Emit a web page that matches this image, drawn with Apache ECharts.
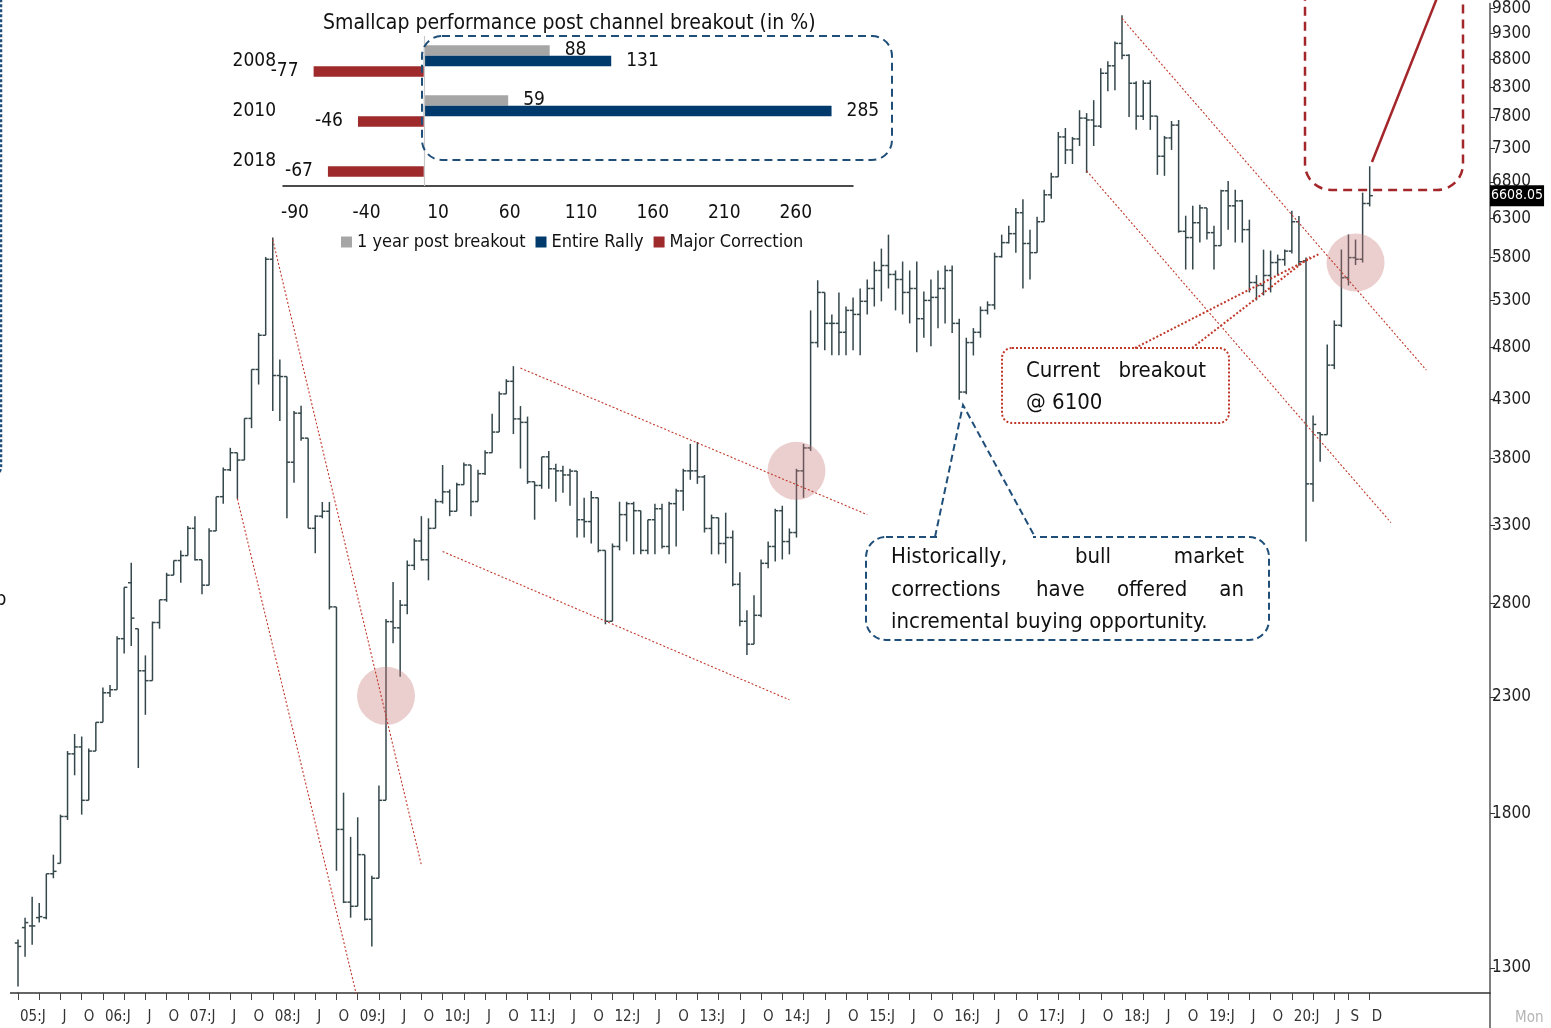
<!DOCTYPE html>
<html><head><meta charset="utf-8">
<script src="https://cdn.jsdelivr.net/npm/echarts@6/dist/echarts.min.js"></script>
<style>html,body{margin:0;padding:0;background:#fff}#c{width:1551px;height:1028px}</style>
</head><body><div id="c"></div>
<script>
// ---------- Monthly OHLC, Jan 2005 .. Dec 2020 ----------
const opens = [
 1370,1415,1420,1445,1445,1585,1620,1788,2040,2070,1850,2052,
 2180,2320,2335,2600,2925,2655,2430,2380,2690,2822,2972,3065,
 3097,3280,3070,2910,3262,3506,3710,3846,3787,4134,4583,4925,
 5780,4525,4515,3770,4180,3966,3280,3365,3400,2780,1740,1493,
 1480,1650,1440,1570,1850,2695,2660,2790,3034,3194,3070,3280,
 3470,3542,3400,3596,3748,3470,3680,3846,4017,4353,4470,4130,
 4100,3618,3590,3813,3718,3702,3670,3700,3340,3327,3498,3131,
 2697,3157,3376,3455,3404,3131,3340,3418,3157,3455,3549,3702,
 3702,3655,3279,3354,3177,3217,2915,2697,2570,2731,3047,3157,
 3404,3190,3251,3702,3885,4850,5390,5050,5050,4956,5190,5146,
 5290,5435,5645,5704,5598,5539,5390,5435,5100,5300,5334,5435,
 5645,5050,4370,4850,4956,5190,5250,5812,5986,6100,6375,5975,
 5861,6255,6620,6875,7478,7276,7447,7780,7750,7650,8551,8686,
 9106,8880,8373,7813,8373,7813,7180,7462,7666,6130,6050,6242,
 6440,6113,5948,6676,6468,6536,6152,5504,5470,5586,5740,5776,
 5880,6255,5760,3602,4010,3995,4625,5030,5560,5800,5780,6500];
const highs = [
 1380,1445,1510,1490,1585,1650,1795,2052,2127,2116,2063,2180,
 2346,2358,2613,2897,3050,2655,2510,2695,2822,2987,3065,3130,
 3296,3365,3070,3280,3506,3729,3886,3846,4134,4583,4950,5808,
 6052,4680,4515,4200,4245,3966,3372,3467,3467,2780,1880,1713,
 1785,1650,1578,1909,2710,2930,2820,3065,3210,3365,3350,3490,
 3748,3560,3610,3767,3748,3710,3866,4175,4375,4490,4615,4243,
 4150,3618,3813,3860,3757,3741,3718,3700,3498,3549,3498,3131,
 3177,3469,3469,3469,3404,3340,3455,3455,3469,3565,3718,3918,
 3934,3670,3376,3354,3390,3265,2990,2760,2849,3072,3190,3418,
 3440,3279,3718,3918,5190,5530,5390,5146,5390,5233,5334,5435,
 5539,5752,5911,6087,5645,5752,5645,5752,5400,5539,5645,5704,
 5704,5100,4900,5000,5233,5290,5861,6087,6204,6440,6560,6150,
 6322,6690,6933,7557,7620,7478,7911,7863,8080,8640,8768,9144,
 9660,8900,8408,8426,8426,7813,7494,7733,7749,6335,6468,6482,
 6440,6204,6690,6817,6690,6550,6282,5590,5898,5886,5837,5900,
 6400,6330,5800,4160,4015,4830,5082,5900,6090,6025,6650,7030];
const lows = [
 1250,1331,1365,1430,1440,1570,1620,1775,1950,1795,1850,2052,
 2180,2300,2335,2520,2560,1980,2215,2380,2655,2810,2972,2925,
 3097,3065,2855,2910,3262,3455,3700,3490,3787,4050,4440,4925,
 4200,4112,3350,3610,3945,3280,3112,3350,2765,1595,1490,1445,
 1480,1436,1360,1570,1850,2575,2400,2737,3004,3065,2940,3280,
 3455,3365,3400,3596,3365,3470,3670,3846,4017,4353,4000,3720,
 3602,3340,3565,3565,3469,3535,3440,3217,3217,3177,3118,2680,
 2697,3131,3190,3105,3105,3105,3105,3144,3105,3157,3404,3633,
 3602,3251,3105,3105,3047,2903,2669,2512,2570,2720,3015,3059,
 3072,3105,3217,3498,3860,4800,4772,4722,4722,4722,4772,4722,
 5146,5233,5290,5435,5190,5146,5050,4752,4900,4812,4998,5050,
 4950,4300,4350,4720,4900,5146,5200,5800,5974,5861,5435,5539,
 5861,6255,6565,6875,7064,7064,7337,6933,7337,7620,8235,8250,
 8805,7797,7590,7749,7590,6904,6890,7276,6113,5656,5656,5986,
 6025,5656,5948,6152,5986,5986,5390,5300,5356,5390,5586,5700,
 5850,5700,3190,3469,3773,3995,4586,5010,5470,5710,5740,6460];
const closes = [
 1360,1430,1420,1448,1585,1593,1788,2040,2070,1850,2052,2180,
 2320,2335,2600,2897,2715,2430,2380,2690,2822,2972,3065,3097,
 3280,3070,2910,3262,3506,3710,3846,3787,4134,4583,4925,5780,
 4525,4515,3770,4180,3966,3280,3365,3400,2780,1740,1493,1480,
 1650,1440,1570,1850,2695,2660,2790,3034,3194,3070,3280,3470,
 3542,3400,3596,3748,3470,3680,3846,4017,4353,4470,4130,4100,
 3618,3590,3813,3718,3702,3670,3700,3340,3327,3498,3131,2697,
 3157,3376,3455,3404,3131,3340,3418,3157,3455,3549,3702,3702,
 3655,3279,3354,3177,3217,2915,2697,2570,2731,3047,3157,3404,
 3190,3251,3702,3885,4850,5390,5050,5050,4956,5190,5146,5290,
 5435,5645,5704,5598,5539,5390,5435,5100,5300,5334,5435,5645,
 5050,4370,4850,4956,5190,5250,5812,5986,6100,6375,5975,5861,
 6255,6620,6875,7478,7276,7447,7780,7750,7650,8551,8686,9106,
 8880,8373,7813,8373,7813,7180,7462,7666,6130,6050,6242,6440,
 6113,5948,6676,6468,6536,6152,5504,5470,5586,5740,5776,5880,
 6255,5750,3602,4082,3995,4625,5030,5560,5800,5780,6500,6608.05];
const lastValue = 6608.05;
const yTicks = [1300,1800,2300,2800,3300,3800,4300,4800,5300,5800,6300,6800,7300,7800,8300,8800,9300,9800];
const monthLetters = ['J','F','M','A','M','J','J','A','S','O','N','D'];
const padMonths = 17;

// ---------- Inset bar chart ----------
const insetCategories = ['2008','2010','2018'];
const oneYearPost = [88, 59, '-'];
const entireRally = [131, 285, '-'];
const majorCorrection = [-77, -46, -67];
const insetTicks = [-90,-40,10,60,110,160,210,260];

// ---------- Annotations (data coords: [month index, value]) ----------
const trendLines = [
  [[35.9, 6024],[56.5, 1614]],
  [[30.7, 3491],[47.6, 1215]],
  [[70.65, 4596],[119.8, 3376]],
  [[59.8, 3124],[109.1, 2286]],
  [[156.0, 9597],[199.2, 4577]],
  [[151.05, 6962],[194.0, 3320]]
];
const breakoutCircles = [[51.86, 2305],[110.2, 3702],[188.5, 5740]];

// ---------- build ----------
const nCats = opens.length + padMonths;
const cats = [];
for (let i = 0; i < nCats; i++) cats.push('m' + i);
function labelFor(i) {
  if (i >= opens.length) return '';
  const yr = 5 + Math.floor(i / 12), m = i % 12;
  const yy = (yr < 10 ? '0' : '') + yr;
  if (yr === 20) {
    if (m === 0) return yy + ':J';
    if (m === 6 || m === 8 || m === 11) return monthLetters[m];
    return '';
  }
  if (m === 0) return yy + ':J';
  if (m === 6 || m === 9) return monthLetters[m];
  return '';
}
function tickFor(i) {
  if (i >= opens.length) return false;
  const yr = 5 + Math.floor(i / 12), m = i % 12;
  if (yr === 20) return m === 0 || m === 3 || m === 6 || m === 8 || m === 11;
  return m % 3 === 0;
}
const ohlc = opens.map((o, i) => [i, o, highs[i], lows[i], closes[i]]);

const FONT = "'DejaVu Sans Condensed','DejaVu Sans',sans-serif";
const BAR = '#34474b';
const NAVY = '#1f4e79';
const DRED = '#a3262a';
const TL = '#c0392b';

function renderOHLC(params, api) {
  const i = api.value(0);
  const o = api.coord([i, api.value(1)]);
  const h = api.coord([i, api.value(2)]);
  const l = api.coord([i, api.value(3)]);
  const c = api.coord([i, api.value(4)]);
  const w = 3.2;
  const st = { stroke: BAR, lineWidth: 1.5 };
  return { type: 'group', children: [
    { type: 'line', shape: { x1: h[0], y1: h[1], x2: l[0], y2: l[1] }, style: st },
    { type: 'line', shape: { x1: o[0] - w, y1: o[1], x2: o[0], y2: o[1] }, style: st },
    { type: 'line', shape: { x1: c[0], y1: c[1], x2: c[0] + w, y2: c[1] }, style: st }
  ]};
}

const series = [
  { type: 'custom', name: 'ohlc', xAxisIndex: 0, yAxisIndex: 0, renderItem: renderOHLC,
    data: ohlc, encode: { x: 0, y: [1, 2, 3, 4] }, z: 2, silent: true },
  { type: 'line', name: 'last', xAxisIndex: 0, yAxisIndex: 0, data: [[opens.length - 1, lastValue]],
    symbol: 'none', lineStyle: { color: 'rgba(0,0,0,0)' }, silent: true, z: 6,
    markLine: { silent: true, symbol: 'none', lineStyle: { color: 'rgba(0,0,0,0)', width: 1, type: 'solid' },
      data: [{ yAxis: lastValue }],
      label: { show: true, position: 'end', distance: 0, formatter: String(lastValue),
        backgroundColor: '#000', color: '#fff', padding: [4, 1, 3, 1], fontSize: 14, fontFamily: FONT } } },
  { type: 'scatter', name: 'circles', xAxisIndex: 0, yAxisIndex: 0, data: breakoutCircles,
    symbolSize: 58, itemStyle: { color: 'rgba(200,120,120,0.45)' }, z: 3, silent: true }
];
trendLines.forEach((seg, k) => series.push({
  type: 'line', name: 'tl' + k, xAxisIndex: 0, yAxisIndex: 0, data: seg, symbol: 'none',
  lineStyle: { color: TL, width: 1.1, type: [2, 2] }, z: 4, silent: true
}));
const barLabel = (pos) => ({ show: true, position: pos, distance: 15, fontSize: 19, color: '#111', fontFamily: FONT });
series.push(
  { type: 'bar', name: '1 year post breakout', xAxisIndex: 1, yAxisIndex: 1, data: oneYearPost,
    barWidth: 10.5, barGap: '0%', itemStyle: { color: '#a6a6a6' }, label: barLabel('right') },
  { type: 'bar', name: 'Entire Rally', xAxisIndex: 1, yAxisIndex: 1, data: entireRally,
    barWidth: 10.5, barGap: '0%', itemStyle: { color: '#003a6c' }, label: barLabel('right') },
  { type: 'bar', name: 'Major Correction', xAxisIndex: 1, yAxisIndex: 1, data: majorCorrection,
    barWidth: 10.5, barGap: '0%', itemStyle: { color: '#9e2a2b' }, label: barLabel('left'),
    markLine: { silent: true, symbol: 'none', data: [{ xAxis: 0 }], label: { show: false },
      lineStyle: { color: '#c8c8c8', width: 1.2, type: 'solid' } } }
);

const txt = (x, y, t, opt) => Object.assign({ type: 'text', x: x, y: y, z: 20,
  style: Object.assign({ text: t, fontSize: 22, fontFamily: FONT, fill: '#111', verticalAlign: 'middle' }, opt || {}) });
const dashed = (c, w, d) => ({ fill: 'none', stroke: c, lineWidth: w, lineDash: d });

const option = {
  animation: false,
  backgroundColor: '#fff',
  title: { text: 'Smallcap performance post channel breakout (in %)', left: 318, top: 8,
    textStyle: { fontSize: 21, fontWeight: 'normal', color: '#111', fontFamily: FONT } },
  legend: { data: ['1 year post breakout', 'Entire Rally', 'Major Correction'], left: 336, top: 228,
    icon: 'rect', itemWidth: 11, itemHeight: 11, itemGap: 10,
    textStyle: { fontSize: 18, color: '#111', fontFamily: FONT } },
  grid: [
    { left: 18, right: 61, top: 0, bottom: 35 },
    { left: 283, top: 36, width: 570, height: 150 }
  ],
  xAxis: [
    { type: 'category', gridIndex: 0, data: cats, boundaryGap: false,
      axisLine: { lineStyle: { color: '#333', width: 1.5 } },
      axisTick: { length: 7, interval: (i) => tickFor(i), lineStyle: { color: '#444' } },
      axisLabel: { interval: (i) => labelFor(i) !== '', formatter: (v, i) => labelFor(i),
        align: 'left', padding: [0, 0, 0, 2], margin: 17, fontSize: 15, color: '#333', fontFamily: FONT },
      splitLine: { show: false } },
    { type: 'value', gridIndex: 1, min: -98.4, max: 300,
      axisLine: { show: true, onZero: false, lineStyle: { color: '#111', width: 1.5 } },
      axisTick: { show: false }, splitLine: { show: false },
      axisLabel: { customValues: insetTicks, fontSize: 19, color: '#111', margin: 18, fontFamily: FONT } }
  ],
  yAxis: [
    { type: 'log', gridIndex: 0, position: 'right', min: 1233, max: 9903, logBase: 10,
      axisLine: { show: true, lineStyle: { color: '#555', width: 1.5 } },
      axisTick: { show: true, length: 5, customValues: yTicks, lineStyle: { color: '#333' } },
      axisLabel: { customValues: yTicks, formatter: (v) => String(Math.round(v)),
        fontSize: 17, color: '#222', margin: 2, fontFamily: FONT },
      splitLine: { show: false } },
    { type: 'category', gridIndex: 1, data: insetCategories, inverse: true,
      axisLine: { show: false }, axisTick: { show: false },
      axisLabel: { fontSize: 19, color: '#111', margin: 7, fontFamily: FONT } }
  ],
  series: series,
  graphic: [
    { type: 'line', shape: { x1: 1490, y1: 993, x2: 1490, y2: 1028 }, style: { stroke: '#555', lineWidth: 1.5 } },
    { type: 'line', shape: { x1: 10, y1: 993, x2: 18, y2: 993 }, style: { stroke: '#333', lineWidth: 1.5 } },
    txt(1515, 1018, 'Mon', { fontSize: 15, fill: '#b5b5b5' }),
    { type: 'rect', z: 15, shape: { x: 422, y: 36, width: 470, height: 124, r: 20 }, style: dashed(NAVY, 2, [8, 5]) },
    { type: 'rect', z: 15, shape: { x: -300, y: -30, width: 301, height: 510, r: 14 }, style: dashed(NAVY, 2.5, [3, 2]) },
    txt(-5, 600, 'b', { fontSize: 20 }),
    { type: 'rect', z: 15, shape: { x: 1305, y: -40, width: 158, height: 230, r: 26 }, style: dashed(DRED, 2.5, [9, 6]) },
    { type: 'line', z: 15, shape: { x1: 1372, y1: 162, x2: 1437, y2: -2 }, style: { stroke: DRED, lineWidth: 2.5 } },
    { type: 'rect', z: 15, shape: { x: 1002, y: 348, width: 227, height: 75, r: 10 }, style: dashed(TL, 2, [2, 2]) },
    { type: 'line', z: 15, shape: { x1: 1135, y1: 348, x2: 1319, y2: 254 }, style: dashed(TL, 2, [2, 2]) },
    { type: 'line', z: 15, shape: { x1: 1192, y1: 348, x2: 1310, y2: 257 }, style: dashed(TL, 2, [2, 2]) },
    txt(1026, 371, 'Current'), txt(1206, 371, 'breakout', { align: 'right' }),
    txt(1026, 403, '@ 6100'),
    { type: 'rect', z: 15, shape: { x: 866, y: 537, width: 403, height: 103, r: 20 }, style: dashed(NAVY, 2, [7, 4]) },
    { type: 'line', z: 16, shape: { x1: 937, y1: 537, x2: 1033, y2: 537 }, style: { stroke: '#fff', lineWidth: 4 } },
    { type: 'polyline', z: 17, shape: { points: [[935, 537], [963, 405], [1035, 537]] }, style: dashed(NAVY, 2, [7, 4]) },
    txt(891, 557, 'Historically,'), txt(1075, 557, 'bull'), txt(1244, 557, 'market', { align: 'right' }),
    txt(891, 590, 'corrections'), txt(1036, 590, 'have'), txt(1117, 590, 'offered'), txt(1244, 590, 'an', { align: 'right' }),
    txt(891, 622, 'incremental buying opportunity.')
  ]
};
const chart = echarts.init(document.getElementById('c'));
chart.setOption(option);
</script></body></html>
